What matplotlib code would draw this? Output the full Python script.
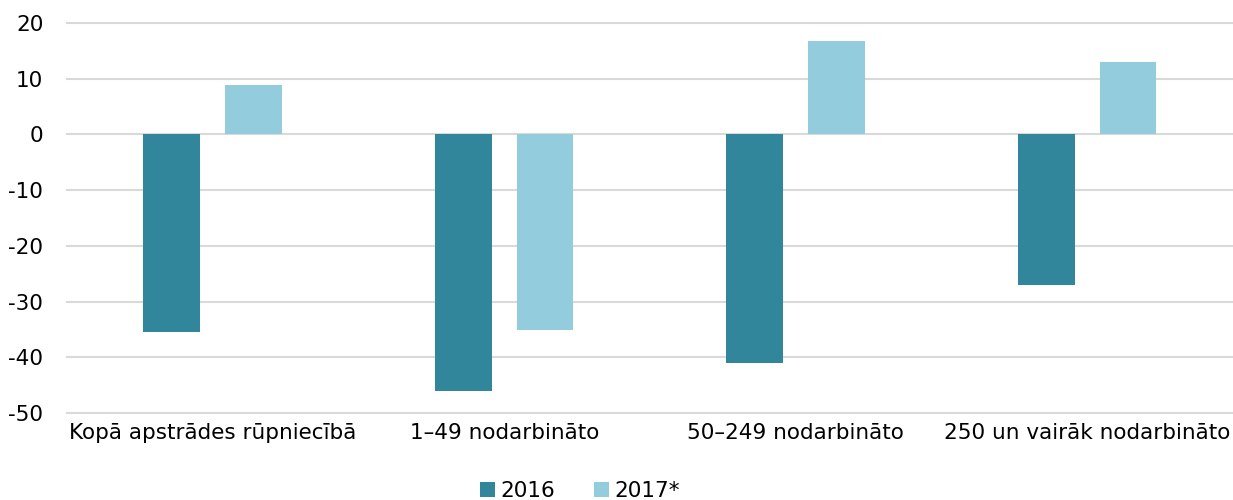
import matplotlib
matplotlib.use("Agg")
import matplotlib.pyplot as plt
import numpy as np

categories = ["Kopā apstrādes rūpniecībā", "1–49 nodarbināto", "50–249 nodarbināto", "250 un vairāk nodarbināto"]
values_2016 = [-35.4, -46.0, -41.0, -27.0]
values_2017 = [8.9, -35.1, 16.8, 13.0]
series_names = ["2016", "2017*"]

color_2016 = "#31869b"
color_2017 = "#93cddd"

plt.rcParams["font.family"] = ["DejaVu Sans"]
plt.rcParams["axes.unicode_minus"] = False

fig = plt.figure(figsize=(12.33, 5), dpi=100)
ax = fig.add_axes([0.0543, 0.174, 0.9457, 0.78])

x = np.arange(len(categories))
width = 0.195
ax.bar(x - 0.14, values_2016, width, color=color_2016, label=series_names[0], zorder=3)
ax.bar(x + 0.14, values_2017, width, color=color_2017, label=series_names[1], zorder=3)

ax.set_xlim(-0.5, len(categories) - 0.5)
ax.set_ylim(-50, 20)
ax.set_yticks(np.arange(-50, 21, 10))
ax.set_xticks(x)
ax.set_xticklabels(categories)
for gl in ax.yaxis.get_gridlines():
    gl.set_clip_on(False)
ax.yaxis.grid(True, color="#d9d9d9", linewidth=1.5, zorder=0)
ax.set_axisbelow(True)

for s in ax.spines.values():
    s.set_visible(False)
ax.tick_params(axis="both", length=0, labelsize=15.5, colors="#000000")
ax.tick_params(axis="y", pad=17)
ax.tick_params(axis="x", pad=7)

fig.legend(loc="lower center", bbox_to_anchor=(0.47, -0.04), ncol=2, frameon=False,
           fontsize=15.5, handlelength=0.7, handleheight=0.7, handletextpad=0.25,
           columnspacing=1.8)

fig.savefig("out.png", dpi=100)
